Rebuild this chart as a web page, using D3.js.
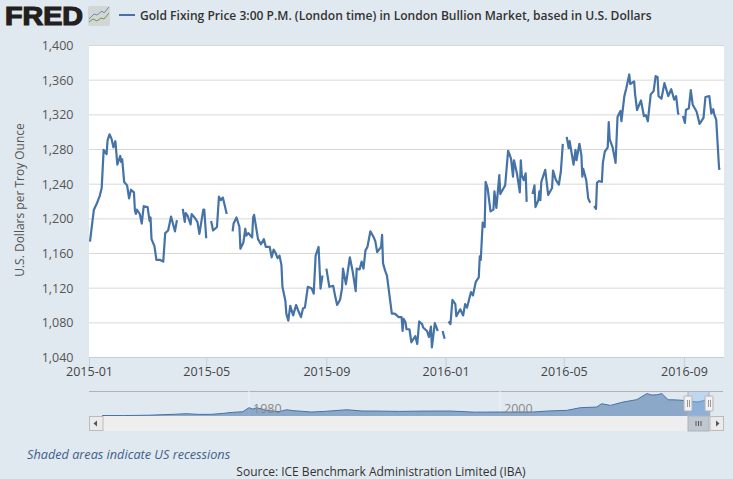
<!DOCTYPE html>
<html lang="en">
<head>
    <meta charset="UTF-8">
    <title>Gold Fixing Price</title>
    <script src="https://d3js.org/d3.v7.min.js"></script>
    <style>
        html, body { margin: 0; padding: 0; background: #e1e9f0; overflow: hidden; }
        svg { display: block; font-family: "Open Sans", sans-serif; }
    </style>
</head>
<body>
    <div id="chart"></div>
    <script>
        const titleText = 'Gold Fixing Price 3:00 P.M. (London time) in London Bullion Market, based in U.S. Dollars';
        const yTitle = 'U.S. Dollars per Troy Ounce';
        const priceTicks = [1040, 1080, 1120, 1160, 1200, 1240, 1280, 1320, 1360, 1400];
        const dateTicks = ['2015-01', '2015-05', '2015-09', '2016-01', '2016-05', '2016-09'];

        // days since 2015-01-01, null price = no fixing that day (line breaks)
        const dayNumbers = [1, 5, 8, 11, 13, 15, 18, 19, 21, 23, 25, 27, 29, 32, 33, 34, 36, 39, 41, 43, 46, 47, 48, 49, 52, 54, 56, 60, 62, 63, 64, 67, 69, 73, 76, 78, 81, 84, 88, 90, 93,
            96, 98, 99, 101, 104, 105, 108, 111, 113, 117, 118, 120, 122,
            125, 127, 131, 133, 135, 137, 141, 144,
            147, 148, 151, 154, 155, 158, 160, 161, 163, 167, 168, 169, 173, 176, 179, 181, 185, 187, 189, 191, 193, 195, 197, 198, 201, 202, 204, 206, 209, 212, 214, 217, 219, 221, 224, 228, 230, 232, 235, 237, 239, 241,
            243, 246, 250, 252, 254, 257, 259, 260, 263, 267, 270, 273, 274, 277, 279, 281, 283, 285, 288, 291, 293, 295, 299, 300, 301, 303, 305, 310, 313, 317, 320, 321, 322, 324, 325, 328, 330, 334, 336, 338, 341, 342, 346, 348, 350, 351, 354, 357, 359,
            362, 364, 366,
            368, 370, 372, 375, 376, 380, 383, 385, 387, 391, 393, 396, 399, 400, 401, 403, 405, 406, 408, 411, 414, 415, 417, 420, 421, 426, 429, 432, 434, 435, 438, 441, 442, 443, 445, 447, 448, 451,
            454, 456, 457, 460, 461, 462, 463, 467, 470, 474, 475, 478, 481, 483, 485, 487,
            489, 491, 492, 496, 498, 499, 502, 504, 505, 506, 509, 511, 513, 515,
            517, 519, 520, 522, 525, 526, 528, 531, 532, 533, 536, 539, 541, 544, 545, 546, 548, 550, 553, 554, 558, 559, 561, 565, 568, 570, 572, 575, 578, 580, 582, 583, 586, 589, 593, 596, 599, 601, 603, 604, 606,
            608, 610, 611, 614, 616, 618, 622, 625, 629, 631, 635, 637, 639, 640, 642, 645, 646];
        const goldPrices = [1173, 1210, 1217, 1226, 1235, 1279, 1274, 1290, 1297, 1292, 1282, 1289, 1262, 1272, 1265, 1268, 1242, 1238, 1223, 1233, 1230, 1209, 1205, 1210, 1205, 1194, 1214, 1213, 1197, 1201, 1176, 1168, 1152, 1152, 1150, 1183, 1186, 1202, 1185, 1198, null,
            1211, 1196, 1206, 1203, 1193, 1205, 1201, 1196, 1182, 1210, 1210, 1177, null,
            1197, 1186, 1190, 1225, 1221, 1224, 1205, null,
            1185, 1194, 1201, 1190, 1165, 1172, 1188, 1180, 1183, 1178, 1201, 1204, 1176, 1170, 1176, 1167, 1167, 1155, 1164, 1160, 1154, 1157, 1146, 1121, 1105, 1090, 1082, 1099, 1088, 1100, 1094, 1086, 1096, 1097, 1121, 1119, 1113, 1157, 1167, 1119, 1134, null,
            1142, 1121, 1122, 1110, 1100, 1106, 1119, 1142, 1124, 1155, 1138, 1116, 1142, 1141, 1150, 1142, 1163, 1167, 1185, 1179, 1174, 1161, 1167, 1181, 1148, 1140, 1134, 1090, 1090, 1086, 1086, 1070, 1084, 1080, 1072, 1072, 1057, 1064, 1055, 1081, 1078, 1074, 1070, 1063, 1075, 1051, 1079, 1070, null,
            1070, 1061, null,
            1081, 1078, 1106, 1101, 1087, 1095, 1088, 1101, 1097, 1115, 1111, 1127, 1132, 1156, 1152, 1195, 1190, 1242, 1235, 1208, 1210, 1231, 1212, 1250, 1228, 1238, 1278, 1269, 1248, 1267, 1252, 1230, 1267, 1250, 1244, 1252, 1219, null,
            1228, 1238, 1213, 1221, 1231, 1221, 1242, 1256, 1227, 1235, 1255, 1244, 1239, 1254, 1286, null,
            1294, 1281, 1289, 1262, 1279, 1267, 1286, 1273, 1248, 1257, 1244, 1223, 1218, null,
            1214, 1211, 1241, 1243, 1242, 1264, 1277, 1282, 1311, 1291, 1282, 1264, 1317, 1324, 1312, 1322, 1341, 1350, 1366, 1355, 1358, 1343, 1325, 1336, 1318, 1319, 1312, 1343, 1347, 1364, 1363, 1341, 1338, 1356, 1341, 1349, 1337, 1341, 1321, 1320, null,
            1318, 1310, 1325, 1327, 1348, 1331, 1323, 1309, 1316, 1340, 1341, 1321, 1326, 1320, 1314, 1257, 1258];

        // long history for the navigator strip
        const navYears = [1968.3, 1970, 1972, 1973, 1974, 1975, 1976, 1977, 1978, 1978.7, 1979.5, 1980, 1980.3, 1980.6, 1981.4, 1982.4, 1983, 1983.5, 1985, 1986, 1987.8, 1989, 1990, 1992, 1994, 1996, 1998, 2000, 2002.6, 2004, 2005.3, 2006.4, 2007.7, 2008.1, 2008.8, 2009.8, 2010.9, 2011.7, 2012.1, 2012.5, 2012.9, 2013.4, 2014, 2014.6, 2015.7, 2016.6, 2016.75];
        const navPrices = [40, 35, 60, 100, 130, 180, 125, 130, 210, 286, 330, 650, 540, 650, 440, 340, 490, 420, 310, 360, 490, 390, 390, 360, 385, 390, 300, 310, 312, 400, 440, 650, 700, 960, 830, 1090, 1280, 1750, 1640, 1660, 1750, 1270, 1260, 1220, 1090, 1270, 1260];
        const navTicks = [1980, 2000];

        const width = 733, height = 479;
        const plot = { left: 89, right: 724, top: 45, bottom: 357 };
        const start = new Date(2015, 0, 1);
        const parseMonth = d3.timeParse('%Y-%m');

        const svg = d3.select('#chart').append('svg')
            .attr('width', width)
            .attr('height', height);

        // plot background
        svg.append('rect')
            .attr('x', plot.left)
            .attr('y', plot.top)
            .attr('width', plot.right - plot.left)
            .attr('height', plot.bottom - plot.top)
            .attr('fill', '#fff');

        const x = d3.scaleTime()
            .domain([start, d3.timeDay.offset(start, 650)])
            .range([plot.left, plot.right]);
        const y = d3.scaleLinear()
            .domain([1040, 1400])
            .range([plot.bottom, plot.top]);

        // y axis + gridlines
        const yAxis = svg.append('g')
            .attr('transform', `translate(${plot.left},0)`)
            .call(d3.axisLeft(y).tickValues(priceTicks).tickFormat(d3.format(',')).tickSize(-(plot.right - plot.left)).tickPadding(15.5));
        yAxis.select('.domain').remove();
        yAxis.selectAll('line').attr('stroke', '#d8d8d8').attr('stroke-width', 1);
        yAxis.selectAll('text').attr('font-size', 12.5).attr('font-family', '"Open Sans", sans-serif').attr('fill', '#555').attr('dy', '0.36em');

        // x axis
        const xAxis = svg.append('g')
            .attr('transform', `translate(0,${plot.bottom})`)
            .call(d3.axisBottom(x).tickValues(dateTicks.map(parseMonth)).tickFormat(d3.timeFormat('%Y-%m')).tickSize(10).tickPadding(0.5));
        xAxis.selectAll('line').attr('stroke', '#c0d0e0');
        xAxis.select('.domain').attr('stroke', '#c0d0e0').attr('d', `M${plot.left},0.5H${plot.right}`);
        xAxis.selectAll('text').attr('font-size', 12.5).attr('font-family', '"Open Sans", sans-serif').attr('fill', '#444');

        // main series
        const line = d3.line()
            .defined((d, i) => goldPrices[i] !== null)
            .x(d => x(d3.timeDay.offset(start, d)))
            .y((d, i) => y(goldPrices[i]))
            .curve(d3.curveLinear);

        svg.append('path')
            .datum(dayNumbers)
            .attr('d', line)
            .attr('fill', 'none')
            .attr('stroke', '#4572a7')
            .attr('stroke-width', 2.2)
            .attr('stroke-linejoin', 'round');

        // y title
        svg.append('text')
            .attr('transform', 'translate(24,200) rotate(-90)')
            .attr('text-anchor', 'middle')
            .attr('font-size', 12)
            .attr('fill', '#555')
            .text(yTitle);

        // header: logo, legend
        svg.append('text')
            .attr('x', 5)
            .attr('y', 25)
            .attr('font-family', '"Liberation Sans", sans-serif')
            .attr('font-weight', 700)
            .attr('font-size', 25)
            .attr('stroke', '#231f20')
            .attr('stroke-width', 1.2)
            .attr('fill', '#231f20')
            .attr('textLength', 78)
            .attr('lengthAdjust', 'spacingAndGlyphs')
            .text('FRED');

        svg.append('rect')
            .attr('x', 88)
            .attr('y', 6)
            .attr('width', 22)
            .attr('height', 20)
            .attr('rx', 2)
            .attr('fill', '#d3d6d6');
        svg.append('path')
            .attr('d', 'M89,19L94,14L97,15L102,11L104,13L109,7')
            .attr('fill', 'none')
            .attr('stroke', '#6f8ba8')
            .attr('stroke-width', 1);
        svg.append('path')
            .attr('d', 'M89,22L93,19L97,21L101,18L104,19L109,13')
            .attr('fill', 'none')
            .attr('stroke', '#6c9a3f')
            .attr('stroke-width', 1);

        svg.append('line')
            .attr('x1', 119)
            .attr('x2', 135)
            .attr('y1', 15)
            .attr('y2', 15)
            .attr('stroke', '#4572a7')
            .attr('stroke-width', 2);
        svg.append('text')
            .attr('x', 140)
            .attr('y', 19.5)
            .attr('font-size', 12.07)
            .attr('font-weight', 600)
            .attr('fill', '#333')
            .text(titleText);

        // navigator
        const nav = { top: 391, bottom: 416, left: 103, right: 710 };
        const navX = d3.scaleLinear().domain([1980, 2000]).range([249, 500]);
        const navY = d3.scaleLinear().domain([0, 1800]).range([nav.bottom, nav.top + 2]);

        svg.append('line')
            .attr('x1', plot.left)
            .attr('x2', plot.right - 1)
            .attr('y1', nav.top + 0.5)
            .attr('y2', nav.top + 0.5)
            .attr('stroke', '#b2b1b6');

        svg.selectAll('.nav-tick')
            .data(navTicks)
            .enter()
            .append('line')
            .attr('class', 'nav-tick')
            .attr('x1', d => navX(d))
            .attr('x2', d => navX(d))
            .attr('y1', nav.top)
            .attr('y2', nav.bottom)
            .attr('stroke', '#eef2f6');

        const navArea = d3.area()
            .x((d, i) => navX(navYears[i]))
            .y0(nav.bottom)
            .y1(d => navY(d));
        svg.append('path')
            .datum(navPrices)
            .attr('d', navArea)
            .attr('fill', '#4572a7')
            .attr('fill-opacity', 0.55);
        svg.append('path')
            .datum(navPrices)
            .attr('d', navArea.lineY1())
            .attr('fill', 'none')
            .attr('stroke', '#4572a7');

        svg.selectAll('.nav-label')
            .data(navTicks)
            .enter()
            .append('text')
            .attr('class', 'nav-label')
            .attr('x', d => navX(d) + 4)
            .attr('y', nav.top + 22)
            .attr('font-size', 12.5)
            .attr('fill', '#888')
            .text(d => d);

        // selected range on the navigator
        svg.append('rect')
            .attr('x', 688)
            .attr('y', nav.top + 1)
            .attr('width', 21)
            .attr('height', nav.bottom - nav.top - 1)
            .attr('fill', '#8fbcf0')
            .attr('fill-opacity', 0.4);
        [688, 709].forEach(hx => {
            svg.append('line')
                .attr('x1', hx)
                .attr('x2', hx)
                .attr('y1', nav.top)
                .attr('y2', nav.bottom)
                .attr('stroke', '#b2b1b6');
            svg.append('rect')
                .attr('x', hx - 4)
                .attr('y', 396)
                .attr('width', 8)
                .attr('height', 15)
                .attr('rx', 1)
                .attr('fill', '#f2f2f2')
                .attr('stroke', '#b2b1b6');
            [-1, 1].forEach(o => {
                svg.append('line')
                    .attr('x1', hx + o + 0.5)
                    .attr('x2', hx + o + 0.5)
                    .attr('y1', 400)
                    .attr('y2', 407)
                    .attr('stroke', '#999');
            });
        });

        // scrollbar
        svg.append('rect')
            .attr('x', plot.left)
            .attr('y', nav.bottom)
            .attr('width', 634)
            .attr('height', 15)
            .attr('fill', '#eeeeee');
        svg.append('rect')
            .attr('x', 688)
            .attr('y', nav.bottom)
            .attr('width', 21)
            .attr('height', 15)
            .attr('fill', '#bfc8d1')
            .attr('stroke', '#b2b1b6');
        [696, 698.5, 701].forEach(gx => {
            svg.append('line')
                .attr('x1', gx)
                .attr('x2', gx)
                .attr('y1', 421)
                .attr('y2', 426)
                .attr('stroke', '#555');
        });
        [[89, 'M97,420.5L93.5,423.5L97,426.5Z'], [709.5, 'M716,420.5L719.5,423.5L716,426.5Z']].forEach(b => {
            svg.append('rect')
                .attr('x', b[0] + 0.5)
                .attr('y', nav.bottom + 0.5)
                .attr('width', 13.5)
                .attr('height', 14)
                .attr('fill', '#ebebeb')
                .attr('stroke', '#bbb');
            svg.append('path')
                .attr('d', b[1])
                .attr('fill', '#555');
        });

        // footer
        svg.append('text')
            .attr('x', 27)
            .attr('y', 458.5)
            .attr('font-size', 12.7)
            .attr('font-style', 'italic')
            .attr('fill', '#3e5f8a')
            .text('Shaded areas indicate US recessions');
        svg.append('text')
            .attr('x', 381)
            .attr('y', 476)
            .attr('text-anchor', 'middle')
            .attr('font-size', 12)
            .attr('fill', '#333')
            .text('Source: ICE Benchmark Administration Limited (IBA)');
    </script>
</body>
</html>
